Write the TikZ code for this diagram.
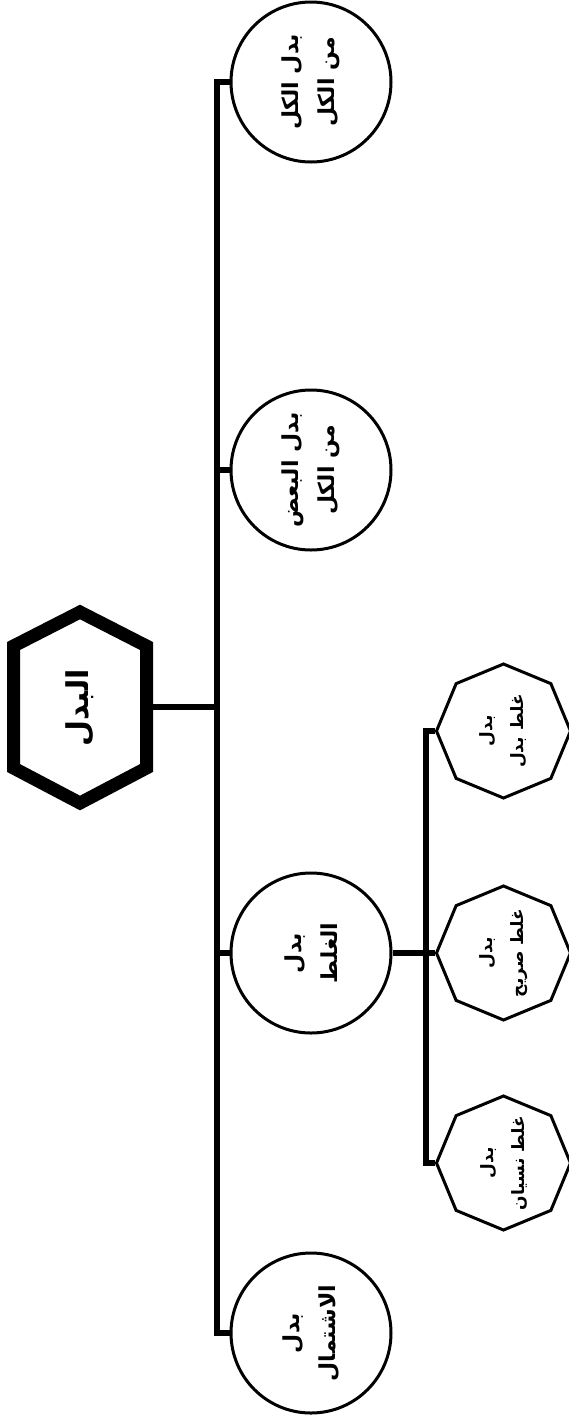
\documentclass[tikz,border=0pt]{standalone}
\usepackage{fontspec}
\newfontfamily\arabicfont[Script=Arabic]{DejaVu Sans}
\TeXXeTstate=1
\usetikzlibrary{shapes.geometric}
\begin{document}
\begin{tikzpicture}[x=1pt,y=-1pt,
  conn/.style={line width=6pt},
  bubble/.style={circle,draw,line width=3pt,minimum size=160pt,inner sep=0pt},
  octa/.style={regular polygon,regular polygon sides=8,shape border rotate=22.5,draw,line width=3pt,minimum size=134pt,inner sep=0pt},
  lbl/.style={rotate=90,font=\arabicfont\bfseries\fontsize{22}{36}\selectfont,align=center,inner sep=0pt},
  olbl/.style={rotate=90,font=\arabicfont\bfseries\fontsize{17}{31}\selectfont,align=center,inner sep=0pt},
  rootlbl/.style={rotate=90,font=\arabicfont\bfseries\fontsize{30}{36}\selectfont,inner sep=0pt},
  hexline/.style={line width=13pt,line join=miter}
  ]
\useasboundingbox (0,0) rectangle (568,1422);
% root hexagon
\draw[hexline] (80,612) -- (146.5,646) -- (146.5,768) -- (80,803) -- (13.5,768) -- (13.5,646) -- cycle;
\node[rootlbl] (root) at (80,708) {\beginR البدل\endR};
\coordinate (rootE) at (146.5,707);
% circles
\node[bubble] (c1) at (311,82) {};
\node[bubble] (c2) at (311,470) {};
\node[bubble] (c3) at (311,953) {};
\node[bubble] (c4) at (311,1333) {};
\node[lbl] (t1) at (c1) {\beginR بدل الكل\endR\\\beginR من الكل\endR};
\node[lbl] (t2) at (c2) {\beginR بدل البعض\endR\\\beginR من الكل\endR};
\node[lbl] (t3) at (c3) {\beginR بدل\endR\\\beginR الغلط\endR};
\node[lbl] (t4) at (c4) {\beginR بدل\endR\\\beginR الاشتمال\endR};
% octagons
\node[octa] (o1) at (503.5,731) {};
\node[octa] (o2) at (503.5,953) {};
\node[octa] (o3) at (503.5,1163) {};
\node[olbl] (u1) at (o1) {\beginR بدل\endR\\\beginR غلط بدل\endR};
\node[olbl] (u2) at (o2) {\beginR بدل\endR\\\beginR غلط صريح\endR};
\node[olbl] (u3) at (o3) {\beginR بدل\endR\\\beginR غلط نسيان\endR};
% main bus
\coordinate (busT) at (217,82);
\coordinate (busB) at (217,1333);
\draw[conn] (c1.west) -- (busT) -- (busB) -- (c4.west);
\draw[conn] (c2.west) -- (c2.west -| busT);
\draw[conn] (rootE) -- (rootE -| busT);
\draw[conn] (c3.west) -- (c3.west -| busT);
% sub bus
\coordinate (obT) at (426,731);
\coordinate (obB) at (426,1163);
\draw[conn] (o1.west) -- (obT) -- (obB) -- (o3.west);
\draw[conn] (o2.west) -- (o2.west -| obT);
\draw[conn] (c3.east) -- (c3.east -| obT);
\end{tikzpicture}
\end{document}
